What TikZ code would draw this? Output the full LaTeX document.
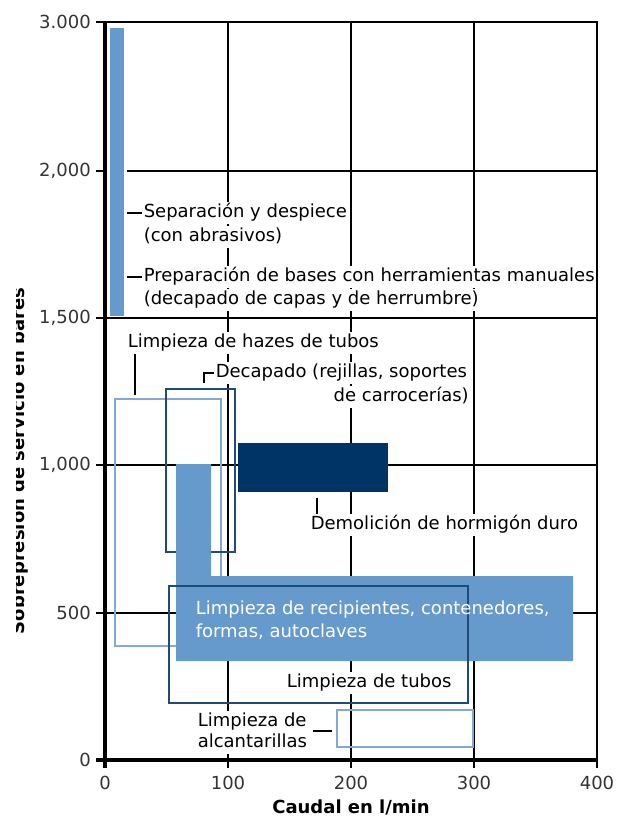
\documentclass[tikz,border=0pt]{standalone}
\usepackage{fontspec}
\setmainfont{DejaVu Sans}
\definecolor{barblue}{HTML}{6699CC}
\definecolor{lightline}{HTML}{80A8D8}
\definecolor{darkline}{HTML}{1F4A7A}
\definecolor{navyfill}{HTML}{003366}
\definecolor{ticktext}{HTML}{333333}
\tikzset{
  gridln/.style={line width=0.95pt, black},
  axisln/.style={line width=2.3pt, black},
  frameln/.style={line width=2pt, black},
  tickln/.style={line width=1.1pt, black},
  lightbox/.style={draw=lightline, line width=1.2pt},
  darkbox/.style={draw=darkline, line width=1.2pt},
  leader/.style={line width=0.9pt, black},
  lbl/.style={font=\fontsize{13.5}{16}\selectfont, fill=white, inner xsep=1.5pt,
    inner ysep=1.8pt, text height=10.2pt, text depth=3pt, anchor=west},
  wlbl/.style={font=\fontsize{13.5}{16}\selectfont, text=white, inner xsep=1.5pt,
    inner ysep=1.8pt, text height=10.2pt, text depth=3pt, anchor=west},
  ticklbl/.style={font=\fontsize{13.5}{16}\selectfont, text=ticktext, inner sep=0pt},
  axtitle/.style={font=\bfseries\fontsize{13.5}{16}\selectfont, inner sep=0pt}
}
\begin{document}
\begin{tikzpicture}[x=0.75pt,y=-0.75pt]
\useasboundingbox (0,0) rectangle (619,818);

% grid
\foreach \gx in {228,351,474} \draw[gridln] (\gx,22) -- (\gx,760);
\foreach \gy in {318,465,613} \draw[gridln] (105,\gy) -- (597,\gy);
\draw[gridln] (127,171) -- (597,171);

% ticks
\foreach \ty in {22,171,318,465,613} \draw[tickln] (96,\ty) -- (105,\ty);
\foreach \tx in {228,351,474} \draw[tickln] (\tx,760) -- (\tx,768);

% tick labels
\node[ticklbl, anchor=east] (t3000) at (91,22) {3.000};
\node[ticklbl, anchor=east] (t2000) at (91,171) {2,000};
\node[ticklbl, anchor=east] (t1500) at (91,318) {1,500};
\node[ticklbl, anchor=east] (t1000) at (91,465) {1,000};
\node[ticklbl, anchor=east] (t500) at (91,613) {500};
\node[ticklbl, anchor=east] (t0) at (91,760) {0};
\node[ticklbl] (x0) at (105,783) {0};
\node[ticklbl] (x100) at (228,783) {100};
\node[ticklbl] (x200) at (351,783) {200};
\node[ticklbl] (x300) at (474,783) {300};
\node[ticklbl] (x400) at (597,783) {400};

% axis titles
\node[axtitle] (xtitle) at (351,807) {Caudal en l/min};
\begin{scope}
  \clip (16,270) rectangle (45,660);
  \node[axtitle, rotate=90, anchor=base] (ytitle) at (25,461) {Sobrepresión de servicio en bares};
\end{scope}

% shapes
\draw[lightbox] (115,399) rectangle (221,646);
\draw[darkbox] (166,389) rectangle (235,552);
\fill[barblue] (176,464) -- (211,464) -- (211,576) -- (573,576) -- (573,661) -- (176,661) -- cycle;
\fill[navyfill] (238,443) rectangle (388,492);
\draw[darkbox] (169,586) rectangle (468,703);
\draw[lightbox] (337,710) rectangle (473,747);
\fill[barblue] (110,28) rectangle (124,316);

% labels
\node[lbl] (sep1) at (141.5,213) {Separación y despiece};
\node[lbl] (sep2) at (141.5,237) {(con abrasivos)};
\node[lbl] (prep1) at (141.5,277) {Preparación de bases con herramientas manuales};
\node[lbl] (prep2) at (141.5,300) {(decapado de capas y de herrumbre)};
\node[lbl] (hazes) at (125.5,343) {Limpieza de hazes de tubos};
\node[lbl] (decap1) at (213.5,373) {Decapado (rejillas, soportes};
\node[lbl, anchor=east] (decap2) at (471,397) {de carrocerías)};
\node[lbl] (demol) at (308.5,525) {Demolición de hormigón duro};
\node[wlbl] (recip1) at (193.5,610) {Limpieza de recipientes, contenedores,};
\node[wlbl] (recip2) at (193.5,633) {formas, autoclaves};
\node[lbl] (tubos) at (284.5,683) {Limpieza de tubos};
\node[lbl] (alc1) at (195.5,722) {Limpieza de};
\node[lbl] (alc2) at (195.5,743) {alcantarillas};

% leaders
\coordinate (sepA) at (127,213);
\coordinate (prepA) at (127,277);
\coordinate (hazA) at (135,395);
\coordinate (decA) at (204,383);
\coordinate (demA) at (317,498);
\coordinate (alcA) at (313,731);
\coordinate (alcB) at (332,731);
\draw[leader] (sepA) -- (sep1.west);
\draw[leader] (prepA) -- (prep1.west);
\draw[leader] (hazA) -- (hazA |- hazes.south);
\draw[leader] (decA) |- (decap1.west);
\draw[leader] (demA) -- (demA |- demol.north);
\draw[leader] (alcA) -- (alcB);

% frame and axes on top
\draw[frameln] (105,22) -- (597,22) -- (597,768);
\draw[axisln] (105,22) -- (105,768);
\draw[axisln] (96,760) -- (597,760);
\end{tikzpicture}
\end{document}
